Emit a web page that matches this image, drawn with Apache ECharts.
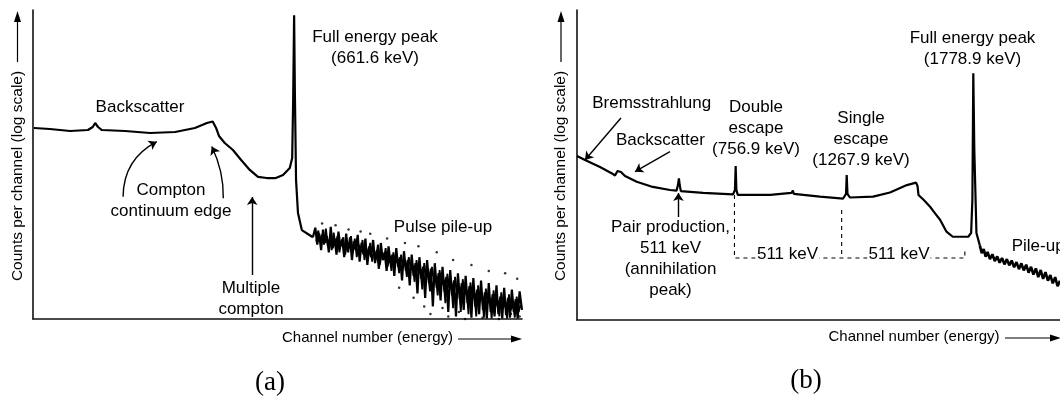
<!DOCTYPE html>
<html><head><meta charset="utf-8">
<script src="https://cdn.jsdelivr.net/npm/echarts@6/dist/echarts.min.js"></script>
<style>html,body{margin:0;padding:0;background:#fff}#c{width:1060px;height:401px}</style>
</head><body><div id="c"></div>
<script>
// ---------- Data (channel number, counts per channel) ----------
// Panel (a)
const spectrumA = [[2,1233],[35,1187],[77,1102],[114,1143],[124,1279],[129,1485],[135,1279],[143,1143],[191,1102],[243,1023],[295,1062],[336,1233],[361,1485],[373,1570],[380,1233],[386,915],[398,704],[415,543],[432,374],[450,258],[467,199],[485,191],[504,191],[519,214],[533,277],[538,403],[540,3500],[542,82000],[543.5,5080],[546,177],[550,52],[558,27.5],[581,21]];
const pileupA = [[581,21],[586,30],[590,16],[594,24],[598,13],[602,28],[606,17],[610,22],[614,12],[618,31],[622,14],[626,20],[630,11],[634,26],[638,15],[642,19],[646,10],[650,24],[654,12],[658,21],[662,9],[666,18],[670,13],[674,23],[678,8.5],[682,17],[686,11],[690,20],[694,7.5],[698,15],[702,10],[706,19],[710,8],[714,13],[718,6.5],[722,17],[726,9],[730,12],[734,6],[738,15],[742,8],[746,11],[750,5],[754,14],[758,7],[762,10],[766,4.2],[770,12.5],[774,6],[778,9],[782,3.5],[786,11],[790,5],[794,8],[798,2.6],[802,10],[806,4.5],[810,7],[814,2.2],[818,9],[822,3.8],[826,6.5],[830,1.6],[834,8],[838,3.2],[842,5.5],[846,2.0],[850,7],[854,2.8],[858,4.8],[862,1.3],[866,6.2],[870,2.4],[874,4.2],[878,1.1],[882,5.5],[886,2.1],[890,3.8],[894,1.4],[898,5],[902,1.8],[906,3.4],[910,1.05],[914,4.6],[918,1.6],[922,3],[926,1.2],[930,4.2],[934,1.4],[938,2.7],[942,1.02],[946,3.8],[950,1.3],[954,2.5],[958,1.1],[962,3.5],[966,1.2],[970,2.3],[974,1.02],[978,3.2],[982,1.15],[986,2.2],[990,1.05],[994,3],[998,1.3],[1002,2.1],[1006,1.02],[1010,2.8],[1015,1.4]];
const pileupA2 = [[588,18],[592,27],[596,19],[600,23],[604,16],[608,29],[612,15],[616,20],[620,13],[624,25],[628,16],[632,22],[636,12],[640,18],[644,21],[648,11],[652,17],[656,14],[660,22],[664,12],[668,20],[672,10],[676,16],[680,12],[684,19],[688,9],[692,14],[696,11],[700,17],[704,8.5],[708,13],[712,10],[716,16],[720,7.5],[724,12],[728,9],[732,14],[736,7],[740,10.5],[744,6],[748,12],[752,8],[756,9.5],[760,5.5],[764,11],[768,7],[772,8.5],[776,4.8],[780,10],[784,6.5],[788,7.5],[792,4],[796,9],[800,5.5],[804,6.5],[808,3],[812,8],[816,4.8],[820,5.5],[824,2.8],[828,7],[832,4.2],[836,5],[840,2.4],[844,6.2],[848,3.6],[852,4.4],[856,1.8],[860,5.4],[864,3.2],[868,3.8],[872,1.5],[876,4.8],[880,2.8],[884,3.3],[888,1.3],[892,4.4],[896,2.5],[900,2.9],[904,1.2],[908,3.9],[912,2.2],[916,2.6],[920,1.1],[924,3.5],[928,2],[932,2.4],[936,1.05],[940,3.1],[944,1.8],[948,2.2],[952,1.02],[956,2.9],[960,1.6],[964,2],[968,1.1],[972,2.7],[976,1.5],[980,1.9],[984,1.02],[988,2.5],[992,1.4],[996,1.8],[1000,1.05],[1004,2.3],[1008,1.3],[1012,1.7]];
const specksA = [[600,35],[628,33],[655,28],[680,26],[700,24],[735,20],[760,3.2],[772,17],[790,2.2],[800,15],[812,1.6],[825,1.2],[838,12],[850,1.5],[862,1.1],[872,9],[884,1.3],[897,1.0],[910,7.5],[922,1.7],[933,1.05],[946,6],[958,1.3],[967,1.0],[980,5.5],[992,1.2],[998,1.6],[860,2.0],[905,2.4],[955,2.0],[975,1.8],[1005,4.5],[1010,1.1]];

// Panel (b)
const spectrumB = [[0,442],[16.6,381],[47.6,294],[72.5,231],[78.7,214],[83.9,253],[87.6,270],[91,244],[99.4,210],[123.6,170],[157,140],[192.5,125],[206,122],[209,150],[211,193],[212.6,150],[215,120],[261,112],[323,106],[327,125],[328.5,305],[330,125],[333,104],[400,104],[444,112],[447,123],[449,108],[503,97.5],[551,91],[557,108],[558.4,218],[560,108],[565,94.6],[613,97.5],[648,114],[683,150],[702,164],[705,145],[707,104],[718,86],[731,67],[741,53],[752,41],[765,26.6],[778,22],[810,22],[816,25.3],[818.6,86],[820.5,9530],[822.6,552],[827,25.3],[834,16]];
const pileupB = [[834,16],[838,12],[842,14],[846,10.5],[850,12.5],[855,9.6],[860,11.5],[865,8.9],[870,10.6],[875,8.4],[880,10],[885,7.9],[890,9.6],[895,7.6],[900,9.1],[905,7.1],[910,8.6],[915,6.6],[920,8.2],[925,6.3],[930,7.8],[935,5.8],[940,7.2],[945,5.4],[950,6.8],[955,4.9],[960,6.4],[965,4.6],[970,5.9],[975,4.3],[980,5.3],[985,3.9],[990,4.9],[995,3.5],[1000,4.3]];
const guideDoubleB = [[326,104],[326,10],[803,10],[803,14.5]];
const guideSingleB = [[548,59.5],[548,10]];

// ---------- Chart ----------
const FONT = '"Liberation Sans", Arial, Helvetica, sans-serif';
const chart = echarts.init(document.getElementById('c'));

function txt(text, x, y, extra) {
  return {type:'text', x:x, y:y, z:100, silent:true,
    style:Object.assign({text:text, align:'center', verticalAlign:'middle',
      textAlign:'center', textVerticalAlign:'middle',
      fontSize:17, fontFamily:FONT, fill:'#000', lineHeight:21}, extra||{})};
}
function arrowLine(x1,y1,x2,y2,tip) {
  return [
    {type:'line', z:100, silent:true, shape:{x1:x1,y1:y1,x2:x2,y2:y2}, style:{stroke:'#000', lineWidth:1.2}},
    {type:'polygon', z:100, silent:true, shape:{points:tip}, style:{fill:'#000'}}
  ];
}
const axLine = {show:true, onZero:false, lineStyle:{color:'#111', width:1.6}};
function xAx(g, max) { return {gridIndex:g, type:'value', min:0, max:max, axisLine:axLine, axisTick:{show:false}, axisLabel:{show:false}, splitLine:{show:false}}; }
function yAx(g) { return {gridIndex:g, type:'log', logBase:10, min:1, max:100000, axisLine:axLine, axisTick:{show:false}, axisLabel:{show:false}, splitLine:{show:false}}; }
function arrows(g, curv, list) {
  return {type:'lines', coordinateSystem:'cartesian2d', xAxisIndex:g, yAxisIndex:g, silent:true, z:5,
    symbol:['none','arrow'], symbolSize:8, polyline:false,
    lineStyle:{color:'#000', width:1.4, opacity:1, curveness:curv},
    data:list.map(c => ({coords:c}))};
}
function curve(g, data, w) {
  return {type:'line', xAxisIndex:g, yAxisIndex:g, data:data, showSymbol:false, symbol:'none',
    lineStyle:{color:'#000', width:w}, emphasis:{disabled:true}};
}

const option = {
  animation:false,
  grid:[{left:33, top:10, width:489, height:309}, {left:577, top:10, width:483, height:310}],
  xAxis:[xAx(0,1015), xAx(1,1000)],
  yAxis:[yAx(0), yAx(1)],
  series:[
    curve(0, spectrumA, 2.2),
    curve(0, pileupA, 2.2),
    curve(0, pileupA2, 1.8),
    {type:'scatter', xAxisIndex:0, yAxisIndex:0, data:specksA, symbolSize:2.5, itemStyle:{color:'#000'}, emphasis:{disabled:true}},
    arrows(0, 0.3, [[[187,95],[257,740]]]),
    arrows(0, -0.12, [[[395,90],[371,618]]]),
    arrows(0, 0, [[[455,5.15],[455,94]]]),
    curve(1, spectrumB, 2.2),
    curve(1, pileupB, 2.6),
    arrows(1, 0, [[[91,1811],[16.6,381]], [[192.5,518],[120,247]], [[210,46],[210,112]]]),
    {type:'line', xAxisIndex:1, yAxisIndex:1, data:guideDoubleB, showSymbol:false, symbol:'none',
     lineStyle:{color:'#000', width:1.1, type:[4,4]}, emphasis:{disabled:true}},
    {type:'line', xAxisIndex:1, yAxisIndex:1, data:guideSingleB, showSymbol:false, symbol:'none',
     lineStyle:{color:'#000', width:1.1, type:[4,4]}, emphasis:{disabled:true}}
  ],
  graphic:[].concat(
    [
      txt('Backscatter',140,107),
      txt('Compton\ncontinuum edge',171,200.5),
      txt('Multiple\ncompton',251,299),
      txt('Full energy peak\n(661.6 keV)',375,47.5),
      txt('Pulse pile-up',443,227),
      txt('Bremsstrahlung',651.7,103.3),
      txt('Backscatter',660.4,140.5),
      txt('Double\nescape\n(756.9 keV)',756,128.5),
      txt('Single\nescape\n(1267.9 keV)',861,139),
      txt('Full energy peak\n(1778.9 keV)',972.5,49),
      txt('Pair production,\n511 keV\n(annihilation\npeak)',670.5,258.5),
      txt('Pile-up',1011.7,246.7,{align:'left', textAlign:'left'}),
      txt('511 keV',787.5,254,{backgroundColor:'#fff', padding:[0,1]}),
      txt('511 keV',899,254,{backgroundColor:'#fff', padding:[0,1]}),
      {type:'text', x:17.5, y:176, rotation:Math.PI/2, z:100, silent:true,
       style:{text:'Counts per channel (log scale)', align:'center', verticalAlign:'middle', textAlign:'center', textVerticalAlign:'middle', fontSize:15.5, fontFamily:FONT, fill:'#000'}},
      {type:'text', x:561, y:176, rotation:Math.PI/2, z:100, silent:true,
       style:{text:'Counts per channel (log scale)', align:'center', verticalAlign:'middle', textAlign:'center', textVerticalAlign:'middle', fontSize:15.5, fontFamily:FONT, fill:'#000'}},
      txt('Channel number (energy)',367.5,338,{fontSize:15}),
      txt('Channel number (energy)',914,337,{fontSize:15}),
      txt('(a)',270,383,{fontSize:27, fontFamily:'"Liberation Serif", "DejaVu Serif", serif'}),
      txt('(b)',806,381,{fontSize:27, fontFamily:'"Liberation Serif", "DejaVu Serif", serif'})
    ],
    arrowLine(17.5,62,17.5,20,[[17.5,11],[14,22],[21,22]]),
    arrowLine(561,62,561,20,[[561,11],[557.5,22],[564.5,22]]),
    arrowLine(458,339,512,339,[[522,339],[511,335.5],[511,342.5]]),
    arrowLine(1005,338,1052,338,[[1061,338],[1050,334.5],[1050,341.5]])
  )
};
chart.setOption(option);
</script>
</body></html>
